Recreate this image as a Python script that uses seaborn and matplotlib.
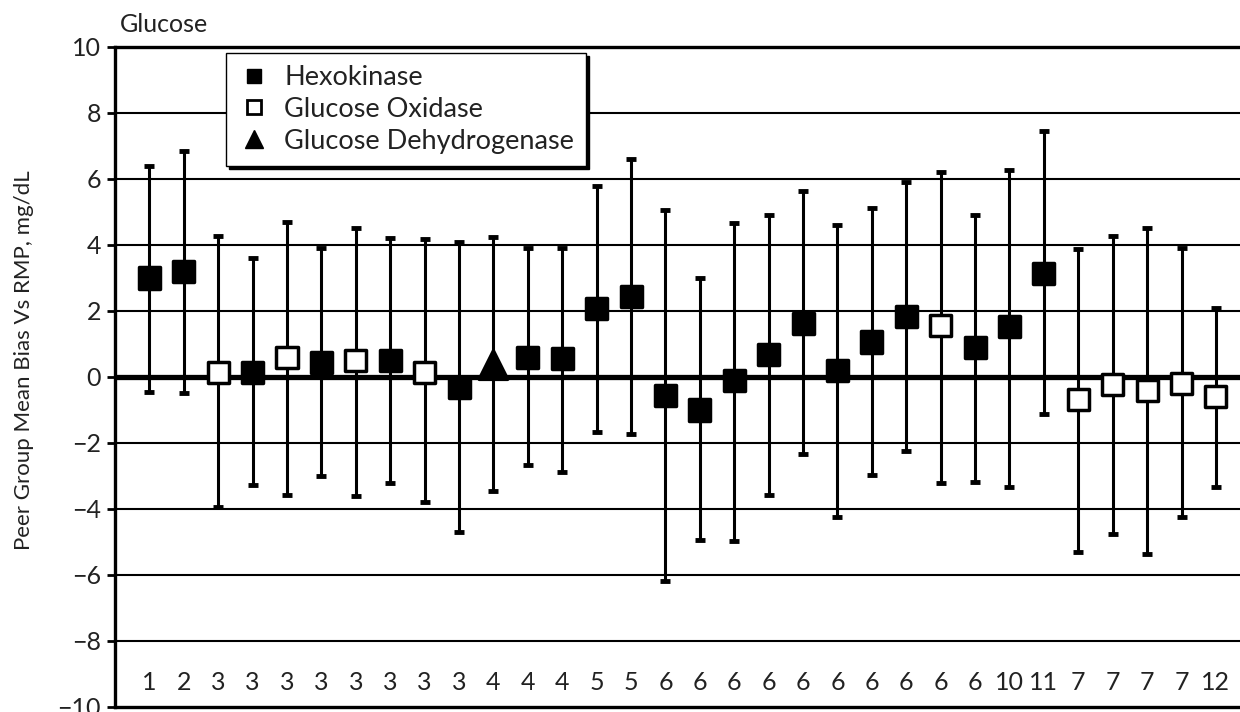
import numpy as np
import pandas as pd
import seaborn as sns
import matplotlib.pyplot as plt
from matplotlib.lines import Line2D

# ---- data ----
x_labels = ["1", "2", "3", "3", "3", "3", "3", "3", "3", "3", "4", "4", "4", "5", "5",
            "6", "6", "6", "6", "6", "6", "6", "6", "6", "6", "10", "11", "7", "7", "7", "7", "12"]
methods = ["H", "H", "O", "H", "O", "H", "O", "H", "O", "H", "D", "H", "H", "H", "H",
           "H", "H", "H", "H", "H", "H", "H", "H", "O", "H", "H", "H", "O", "O", "O", "O", "O"]
means = [3.0, 3.2, 0.15, 0.15, 0.58, 0.45, 0.5, 0.5, 0.15, -0.32, 0.36, 0.6, 0.57, 2.08, 2.45,
         -0.55, -1.0, -0.12, 0.67, 1.63, 0.2, 1.06, 1.82, 1.55, 0.88, 1.52, 3.15,
         -0.67, -0.24, -0.4, -0.2, -0.6]
upper = [6.4, 6.85, 4.27, 3.6, 4.7, 3.9, 4.5, 4.2, 4.18, 4.08, 4.24, 3.9, 3.9, 5.78, 6.6,
         5.05, 3.0, 4.68, 4.9, 5.65, 4.62, 5.12, 5.9, 6.2, 4.92, 6.26, 7.45,
         3.88, 4.27, 4.5, 3.9, 2.1]
lower = [-0.45, -0.5, -3.95, -3.27, -3.58, -3.0, -3.6, -3.2, -3.8, -4.7, -3.45, -2.67, -2.88, -1.66, -1.73,
         -6.18, -4.94, -4.97, -3.58, -2.32, -4.24, -2.97, -2.24, -3.2, -3.18, -3.33, -1.12,
         -5.3, -4.76, -5.36, -4.24, -3.33]
method_names = {"H": "Hexokinase", "O": "Glucose Oxidase", "D": "Glucose Dehydrogenase"}
y_ticks = [10, 8, 6, 4, 2, 0, -2, -4, -6, -8, -10]

df = pd.DataFrame({
    "pos": np.arange(len(means)),
    "label": x_labels,
    "method": [method_names[m] for m in methods],
    "mean": means,
    "upper": upper,
    "lower": lower,
})

sns.set_theme(style="white")
plt.rcParams["font.family"] = ["Lato", "DejaVu Sans"]

fig = plt.figure(figsize=(12.4, 7.12), dpi=100)
ax = fig.add_axes([115 / 1240, 5 / 712, (1240 - 115) / 1240, (707 - 47) / 712])

# grid lines
for yv in y_ticks:
    if yv in (10, -10):
        continue
    lw = 3.8 if yv == 0 else 1.5
    ax.axhline(yv, color="black", lw=lw, zorder=1)

# error bars
ax.errorbar(df["pos"], df["mean"],
            yerr=[df["mean"] - df["lower"], df["upper"] - df["mean"]],
            fmt="none", ecolor="black", elinewidth=2.2, capsize=3.5, capthick=3.5, zorder=3)

palette = {"Hexokinase": "black", "Glucose Oxidase": "white", "Glucose Dehydrogenase": "black"}
markers = {"Hexokinase": "s", "Glucose Oxidase": "s", "Glucose Dehydrogenase": "^"}
sizes = {"Hexokinase": 230, "Glucose Oxidase": 230, "Glucose Dehydrogenase": 420}
sns.scatterplot(data=df, x="pos", y="mean", hue="method", style="method", size="method",
                palette=palette, markers=markers, sizes=sizes, edgecolor="black",
                linewidth=2.5, legend=False, zorder=5, ax=ax)

ax.set_xlim(-1, 31.7)
ax.set_ylim(-10, 10)
ax.set_yticks(y_ticks)
ax.set_yticklabels([str(t).replace("-", "\u2212") for t in y_ticks], fontsize=18, color="#222222")
ax.set_xticks([])
ax.set_xlabel("")
ax.set_ylabel("Peer Group Mean Bias Vs RMP, mg/dL", fontsize=16, color="#222222")
ax.yaxis.set_label_coords(-0.072, 0.525)
ax.tick_params(axis="y", direction="out", length=6, width=2, color="black", pad=4, left=True)

for p, lab in zip(df["pos"], df["label"]):
    ax.text(p, -9.27, lab, ha="center", va="center", fontsize=18, color="#222222")

for side in ["left", "top", "bottom"]:
    ax.spines[side].set_color("black")
    ax.spines[side].set_linewidth(2.4)
ax.spines["right"].set_visible(False)

fig.text(120 / 1240, 1 - 25 / 712, "Glucose", fontsize=18, va="center", ha="left", color="#222222")

handles = [
    Line2D([], [], ls="none", marker="s", markersize=10, markerfacecolor="black", markeredgecolor="black"),
    Line2D([], [], ls="none", marker="s", markersize=10, markerfacecolor="white", markeredgecolor="black", markeredgewidth=2),
    Line2D([], [], ls="none", marker="^", markersize=13, markerfacecolor="black", markeredgecolor="black"),
]
leg = ax.legend(handles, ["Hexokinase", "Glucose Oxidase", "Glucose Dehydrogenase"],
                loc="upper left", bbox_to_anchor=((226 - 115) / 1125, 1 - 6 / 660),
                borderaxespad=0, fontsize=19.5, frameon=True, fancybox=False,
                edgecolor="black", handletextpad=0.5, labelspacing=0.25,
                borderpad=0.45, handlelength=1.2,
                shadow={"color": "black", "alpha": 1.0, "ox": 2, "oy": -2})
for t in leg.get_texts():
    t.set_color("#222222")
leg.get_frame().set_linewidth(1.0)
leg.set_zorder(10)

fig.savefig("out.png", dpi=100)
